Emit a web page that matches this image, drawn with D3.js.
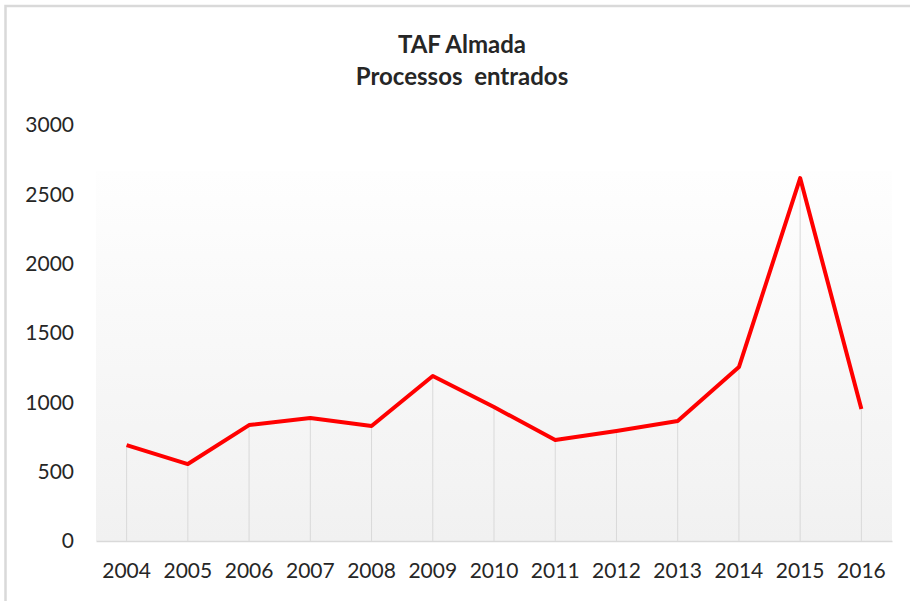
<!DOCTYPE html>
<html>
<head>
<meta charset="utf-8">
<script src="https://cdn.jsdelivr.net/npm/d3@7"></script>
<style>
  body { margin: 0; background: #fff; }
  text { font-family: Lato, "Open Sans", sans-serif; fill: #262626; }
</style>
</head>
<body>
<svg id="chart" width="910" height="601"></svg>
<script>
const years = [2004, 2005, 2006, 2007, 2008, 2009, 2010, 2011, 2012, 2013, 2014, 2015, 2016];
const processos = [692, 555, 836, 887, 829, 1190, 966, 728, 793, 865, 1254, 2617, 952];
const yTicks = [0, 500, 1000, 1500, 2000, 2500, 3000];
const titleLines = ['TAF Almada', 'Processos  entrados'];

const svg = d3.select('#chart');

// outer chart frame (cropped on the right/bottom)
svg.append('rect')
  .attr('x', 5.5).attr('y', 6)
  .attr('width', 920).attr('height', 620)
  .attr('fill', '#fff')
  .attr('stroke', '#d9d9d9')
  .attr('stroke-width', 2.5);

const plotLeft = 96, plotRight = 892, plotTop = 125, plotBottom = 541;

const x = d3.scaleBand().domain(years).range([plotLeft, plotRight]);
const y = d3.scaleLinear().domain([0, 3000]).range([plotBottom, plotTop]);
const cx = d => x(d) + x.bandwidth() / 2;

// plot area gradient
const grad = svg.append('defs').append('linearGradient')
  .attr('id', 'bg').attr('x1', 0).attr('y1', 0).attr('x2', 0).attr('y2', 1);
grad.append('stop').attr('offset', '0%').attr('stop-color', '#fefefe');
grad.append('stop').attr('offset', '100%').attr('stop-color', '#f1f1f1');

svg.append('rect')
  .attr('x', plotLeft).attr('y', 171)
  .attr('width', plotRight - plotLeft).attr('height', plotBottom - 171)
  .attr('fill', 'url(#bg)');

// title
svg.append('g').selectAll('text')
  .data(titleLines)
  .join('text')
  .attr('x', 462)
  .attr('y', (d, i) => 53 + i * 32)
  .attr('text-anchor', 'middle')
  .style('font-size', '24px').style('font-weight', 'bold')
  .style('white-space', 'pre')
  .attr('fill', '#000')
  .text(d => d);

// drop lines
svg.append('g').selectAll('line')
  .data(years)
  .join('line')
  .attr('x1', d => cx(d)).attr('x2', d => cx(d))
  .attr('y1', (d, i) => y(processos[i]))
  .attr('y2', plotBottom)
  .attr('stroke', '#d9d9d9')
  .attr('stroke-width', 1);

// x axis
const xAxis = svg.append('g')
  .attr('transform', 'translate(0,' + plotBottom + ')')
  .call(d3.axisBottom(x).tickSize(0).tickPadding(22));
xAxis.select('.domain').attr('stroke', '#d9d9d9').attr('stroke-width', 1.5);
xAxis.selectAll('text').style('font-size', '21px').attr('fill', '#262626');

// y axis labels
const yAxis = svg.append('g')
  .attr('transform', 'translate(74,0)')
  .call(d3.axisLeft(y).tickValues(yTicks).tickFormat(d3.format('d')).tickSize(0).tickPadding(0));
yAxis.select('.domain').remove();
yAxis.selectAll('text').style('font-size', '21px').attr('fill', '#262626');

// series line
const line = d3.line()
  .x((d, i) => cx(years[i]))
  .y(d => y(d));

svg.append('path')
  .datum(processos)
  .attr('fill', 'none')
  .attr('stroke', '#ff0000')
  .attr('stroke-width', 4)
  .attr('stroke-linejoin', 'round')
  .attr('d', line);
</script>
</body>
</html>
